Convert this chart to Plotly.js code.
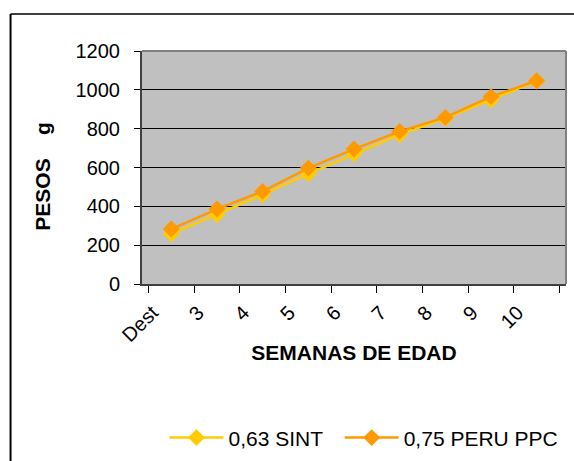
<!DOCTYPE html>
<html>
<head>
<meta charset="utf-8">
<script src="https://cdn.plot.ly/plotly-3.0.1.min.js"></script>
<style>html,body{margin:0;padding:0;background:#fff;}#chart{width:574px;height:461px;}</style>
</head>
<body>
<div id="chart"></div>
<script>
const categories = ["Dest", "3", "4", "5", "6", "7", "8", "9", "10"];
const sint063 = [258, 357, 460, 567, 670, 769, 853, 948, 1045];
const peru075 = [283, 386, 477, 597, 695, 786, 858, 965, 1047];
const seriesNames = ["0,63 SINT", "0,75 PERU PPC"];
const yTicks = [0, 200, 400, 600, 800, 1000, 1200];

const FONT = "Liberation Sans, Arial, sans-serif";

const traces = [
  {
    x: categories, y: sint063, name: seriesNames[0] + "\u00A0\u00A0", type: "scatter", mode: "lines+markers",
    line: {color: "#FFCC00", width: 2.5},
    marker: {symbol: "diamond", size: 13, color: "#FFCC00"}
  },
  {
    x: categories, y: peru075, name: seriesNames[1], type: "scatter", mode: "lines+markers",
    line: {color: "#FF9900", width: 2.5},
    marker: {symbol: "diamond", size: 13, color: "#FF9900"}
  }
];

const layout = {
  width: 574, height: 461,
  margin: {l: 142, r: 8, t: 51, b: 177},
  paper_bgcolor: "#ffffff",
  plot_bgcolor: "#C0C0C0",
  font: {family: FONT, color: "#000", size: 20},
  showlegend: true,
  legend: {
    orientation: "h", x: 0.053, xanchor: "left", yref: "container", y: 0.05, yanchor: "middle",
    font: {family: FONT, size: 21, color: "#000"}, itemwidth: 54,
    bgcolor: "rgba(0,0,0,0)", traceorder: "normal"
  },
  xaxis: {
    type: "category", tickson: "boundaries", ticks: "outside", ticklen: 7, tickcolor: "#000",
    tickangle: -45, showgrid: false, showline: true, linecolor: "#404040", linewidth: 2,
    ticklabelstandoff: 7, ticklabelshift: -19,
    tickfont: {family: FONT, size: 20},
    title: {text: "<b>SEMANAS DE EDAD</b>", font: {family: FONT, size: 21}, standoff: 0},
    fixedrange: true
  },
  yaxis: {
    range: [0, 1200], tickvals: yTicks, ticktext: yTicks.map(String),
    ticks: "outside", ticklen: 6, tickcolor: "#000", ticklabelstandoff: 10,
    showgrid: true, gridcolor: "#000", gridwidth: 1, zeroline: false,
    showline: true, linecolor: "#404040", linewidth: 2,
    tickfont: {family: FONT, size: 20},
    fixedrange: true
  },
  annotations: [
    {text: "<b>PESOS\u00A0\u00A0\u00A0\u00A0g</b>", xref: "paper", yref: "paper", x: -0.2335, y: 0.465,
     xanchor: "center", yanchor: "middle", textangle: -90, showarrow: false,
     font: {family: FONT, size: 21, color: "#000"}}
  ],
  shapes: [
    {type: "line", xref: "paper", yref: "paper", x0: 1, x1: 1, y0: 0, y1: 1, line: {color: "#808080", width: 2}},
    {type: "line", xref: "paper", yref: "paper", x0: 0, x1: 1, y0: 1, y1: 1, line: {color: "#808080", width: 2}},
    {type: "line", xref: "paper", yref: "paper", x0: -0.31, x1: 1.05, y0: 1.159, y1: 1.159, line: {color: "#404040", width: 2}},
    {type: "line", xref: "paper", yref: "paper", x0: -0.31, x1: -0.31, y0: 1.159, y1: -0.8, line: {color: "#000", width: 2}}
  ]
};

Plotly.newPlot("chart", traces, layout, {displayModeBar: false, staticPlot: true});
</script>
</body>
</html>
